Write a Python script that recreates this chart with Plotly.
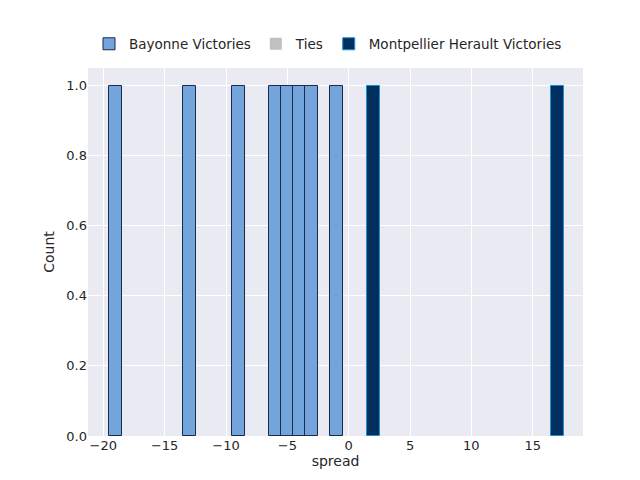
import plotly.graph_objects as go

bay_x = [-19, -13, -9, -6, -5, -4, -3, -1]
bay_y = [1, 1, 1, 1, 1, 1, 1, 1]
tie_x = [0]
tie_y = [0]
mon_x = [2, 17]
mon_y = [1, 1]

fig = go.Figure()
fig.add_bar(x=bay_x, y=bay_y, width=1.06, name="Bayonne Victories",
            marker=dict(color="#74a4dc", line=dict(color="#1a2a4a", width=1)))
fig.add_bar(x=tie_x, y=tie_y, width=1.06, name="Ties",
            marker=dict(color="#c0c0c0", line=dict(color="#c0c0c0", width=0)))
fig.add_bar(x=mon_x, y=mon_y, width=1.06, name="Montpellier Herault Victories",
            marker=dict(color="#002f5f", line=dict(color="#1c8fd0", width=1)))

fig.update_layout(
    width=640, height=480, template=None,
    paper_bgcolor="white", plot_bgcolor="#eaeaf2",
    font=dict(family="DejaVu Sans", size=13, color="#262626"),
    margin=dict(l=80, r=65, t=60, b=52, autoexpand=False),
    showlegend=True,
    legend=dict(orientation="h", x=0.5, xanchor="center", xref="container",
                y=0.925, yanchor="middle", yref="container",
                font=dict(size=13.5), bgcolor="rgba(0,0,0,0)", traceorder="normal"),
    xaxis=dict(range=[-21.25, 19.1], tickvals=[-20, -15, -10, -5, 0, 5, 10, 15],
               gridcolor="white", gridwidth=1.2, zeroline=False, showline=False,
               ticks="", title=dict(text="spread", standoff=4, font=dict(size=14))),
    yaxis=dict(range=[0, 1.05], tickvals=[0, 0.2, 0.4, 0.6, 0.8, 1.0],
               tickformat=".1f", gridcolor="white", gridwidth=1.2, zeroline=False,
               showline=False, ticks="", title=dict(text="Count", standoff=8, font=dict(size=14))),
    bargap=0,
)
fig.write_html("out.html")
